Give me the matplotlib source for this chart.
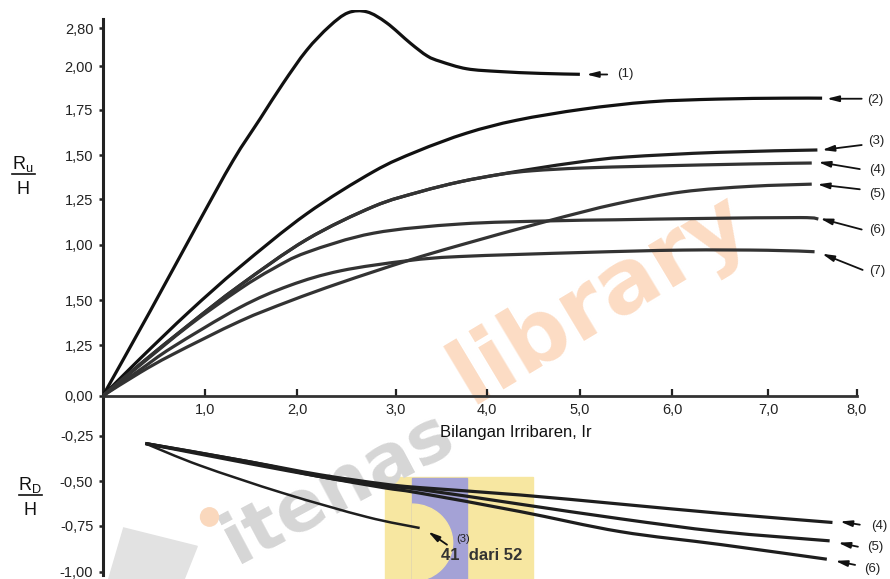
import matplotlib.pyplot as plt
from matplotlib.patches import Rectangle, Ellipse, Polygon, PathPatch
from matplotlib.lines import Line2D
from matplotlib.path import Path

plt.rcParams['font.family'] = ['Liberation Sans Narrow', 'Liberation Sans', 'DejaVu Sans']

# run-up curves (1)..(7): Irribaren number vs Ru/H
ir_1 = [0, 0.50, 1.00, 1.38, 1.67, 1.91, 2.16, 2.40, 2.60, 2.80, 3.01, 3.26, 3.44, 3.58, 3.86, 4.21, 4.64, 5.06]
ru_1 = [0, 0.46, 0.93, 1.28, 1.51, 1.70, 1.88, 2.01, 2.085, 2.09, 2.03, 1.92, 1.85, 1.82, 1.78, 1.765, 1.755, 1.75]

ir_2 = [0, 0.39, 0.92, 1.45, 2.16, 2.87, 3.33, 3.86, 4.39, 5.09, 5.80, 6.52, 7.22, 7.63]
ru_2 = [0, 0.20, 0.46, 0.70, 0.99, 1.22, 1.33, 1.43, 1.50, 1.56, 1.60, 1.615, 1.62, 1.62]

ir_3 = [0, 0.39, 0.92, 1.45, 2.16, 2.87, 3.36, 3.79, 4.21, 4.56, 5.09, 5.56, 6.52, 7.58]
ru_3 = [0, 0.17, 0.39, 0.60, 0.85, 1.03, 1.11, 1.165, 1.205, 1.235, 1.275, 1.30, 1.325, 1.338]

ir_4 = [0, 0.39, 0.92, 1.45, 2.16, 2.87, 3.36, 3.79, 4.21, 4.56, 5.09, 5.80, 6.87, 7.52]
ru_4 = [0, 0.17, 0.39, 0.60, 0.85, 1.03, 1.11, 1.165, 1.205, 1.225, 1.24, 1.25, 1.262, 1.267]

ir_5 = [0, 0.39, 0.74, 1.45, 1.98, 2.52, 3.23, 3.79, 4.71, 5.45, 6.15, 6.87, 7.52]
ru_5 = [0, 0.125, 0.225, 0.405, 0.515, 0.615, 0.735, 0.82, 0.95, 1.045, 1.11, 1.14, 1.152]

ir_6 = [0, 0.39, 0.92, 1.45, 1.80, 2.16, 2.87, 3.79, 4.74, 5.45, 6.33, 7.40, 7.59]
ru_6 = [0, 0.165, 0.385, 0.58, 0.69, 0.78, 0.885, 0.935, 0.952, 0.958, 0.965, 0.97, 0.962]

ir_7 = [0, 0.39, 0.74, 1.45, 1.98, 2.52, 3.23, 3.79, 5.09, 6.15, 7.05, 7.55]
ru_7 = [0, 0.14, 0.265, 0.48, 0.60, 0.68, 0.735, 0.758, 0.78, 0.793, 0.792, 0.784]

# run-down curves (3)..(6): Irribaren number vs Rd/H
ir_d3 = [0.45, 1.03, 1.91, 2.80, 3.36]
rd_d3 = [-0.26, -0.38, -0.53, -0.66, -0.72]

ir_d4 = [0.45, 1.56, 2.30, 2.97, 3.36, 4.42, 5.49, 6.55, 7.74]
rd_d4 = [-0.26, -0.36, -0.43, -0.48, -0.50, -0.54, -0.59, -0.64, -0.69]

ir_d5 = [0.45, 1.56, 2.30, 2.97, 3.36, 4.42, 5.49, 6.55, 7.71]
rd_d5 = [-0.26, -0.36, -0.44, -0.49, -0.51, -0.59, -0.67, -0.74, -0.79]

ir_d6 = [0.45, 1.56, 2.30, 2.97, 3.36, 4.42, 5.49, 6.55, 7.68]
rd_d6 = [-0.26, -0.37, -0.44, -0.50, -0.53, -0.63, -0.74, -0.81, -0.89]

xtick_pos = [1.08, 2.06, 3.11, 4.07, 5.06, 6.04, 7.06, 8.0]
xtick_lab = ['1,0', '2,0', '3,0', '4,0', '5,0', '6,0', '7,0', '8,0']
ytick_pos = [0, 0.274, 0.521, 0.822, 1.069, 1.310, 1.557, 1.793, 2.001, -0.219, -0.466, -0.707, -0.959]
ytick_lab = ['0,00', '1,25', '1,50', '1,00', '1,25', '1,50', '1,75', '2,00', '2,80',
             '-0,25', '-0,50', '-0,75', '-1,00']


def smooth_path(xs, ys):
    # Catmull-Rom through the points, written as cubic Bezier segments
    pts = list(zip(xs, ys))
    verts = [pts[0]]
    codes = [Path.MOVETO]
    n = len(pts)
    for i in range(n - 1):
        p0 = pts[i - 1] if i > 0 else pts[i]
        p1 = pts[i]
        p2 = pts[i + 1]
        p3 = pts[i + 2] if i + 2 < n else p2
        c1 = (p1[0] + (p2[0] - p0[0]) / 6, p1[1] + (p2[1] - p0[1]) / 6)
        c2 = (p2[0] - (p3[0] - p1[0]) / 6, p2[1] - (p3[1] - p1[1]) / 6)
        verts += [c1, c2, p2]
        codes += [Path.CURVE4] * 3
    return Path(verts, codes)


fig = plt.figure(figsize=(8.9, 5.79), dpi=100)
ax = fig.add_axes([0.1157, 0.0069, 0.8472, 0.9758])
ax.set_xlim(0, 8)
ax.set_ylim(-0.976, 2.10)

# faint library watermark behind everything
ax.add_patch(Rectangle((2.99, -1.0), 1.57, 0.56, color='#f7e7a1', zorder=0, clip_on=False))
blue = Rectangle((3.28, -1.0), 0.58, 0.55, color='#a4a2d6', zorder=0, clip_on=False)
ax.add_patch(blue)
d_shape = Ellipse((3.28, -0.80), 0.86, 0.42, color='#f7e7a1', zorder=0)
ax.add_patch(d_shape)
d_shape.set_clip_path(blue)
ax.add_patch(Polygon([(0.06, -1.0), (0.22, -0.72), (1.0, -0.82), (0.86, -1.0)],
                     color='#e2e2e2', zorder=0, clip_on=False))
ax.text(2.50, -0.50, 'itenas', rotation=28, fontsize=52, fontweight='bold',
        family='DejaVu Sans', color='#d6d6d6', ha='center', va='center', zorder=0)
ax.add_patch(Ellipse((1.13, -0.66), 0.19, 0.10, color='#fad8bd', zorder=0))
ax.text(5.27, 0.53, 'library', rotation=31, fontsize=64, fontweight='bold',
        family='DejaVu Sans', color='#fcdcc4', ha='center', va='center', zorder=0)

upper = [(ir_1, ru_1, '#111111'), (ir_2, ru_2, '#111111'), (ir_3, ru_3, '#1e1e1e'),
         (ir_4, ru_4, '#333333'), (ir_5, ru_5, '#333333'), (ir_6, ru_6, '#333333'),
         (ir_7, ru_7, '#333333')]
for x, y, c in upper:
    ax.add_patch(PathPatch(smooth_path(x, y), fill=False, edgecolor=c, lw=2.3,
                           capstyle='butt', zorder=3))

lower = [(ir_d3, rd_d3, 1.8), (ir_d4, rd_d4, 2.3), (ir_d5, rd_d5, 2.3), (ir_d6, rd_d6, 2.3)]
for x, y, w in lower:
    ax.add_patch(PathPatch(smooth_path(x, y), fill=False, edgecolor='#1e1e1e', lw=w,
                           capstyle='butt', zorder=3))

# curve numbers with arrows: (label, label x, label y, tail, head)
tags = [('(1)', 5.54, 1.754, (5.35, 1.749), (5.13, 1.749)),
        ('(2)', 8.19, 1.612, (8.05, 1.617), (7.68, 1.617)),
        ('(3)', 8.20, 1.387, (8.05, 1.365), (7.63, 1.338)),
        ('(4)', 8.21, 1.228, (8.03, 1.234), (7.59, 1.272)),
        ('(5)', 8.21, 1.096, (8.03, 1.124), (7.58, 1.151)),
        ('(6)', 8.21, 0.905, (8.05, 0.905), (7.61, 0.965)),
        ('(7)', 8.22, 0.680, (8.06, 0.685), (7.63, 0.773)),
        ('(4)', 8.24, -0.707, (8.03, -0.702), (7.82, -0.685)),
        ('(5)', 8.19, -0.822, (8.01, -0.822), (7.80, -0.800)),
        ('(6)', 8.16, -0.943, (7.98, -0.921), (7.77, -0.899)),
        ('(3)', 3.82, -0.78, (3.65, -0.811), (3.45, -0.740))]
for lab, tx, ty, tail, head in tags:
    ax.annotate('', xy=head, xytext=tail, zorder=4, annotation_clip=False,
                arrowprops=dict(arrowstyle='-|>,head_length=0.7,head_width=0.18',
                                color='#111111', lw=1.3, shrinkA=0, shrinkB=0))
    fs = 8 if lab == '(3)' and ty < 0 else 9.5
    ax.text(tx, ty, lab, fontsize=fs, color='#222222', ha='center', va='center',
            clip_on=False, zorder=5)

ax.text(3.59, -0.87, '41  dari 52', fontsize=12, fontweight='bold', color='#333333',
        ha='left', va='center', family='Liberation Sans', zorder=5)

# axes drawn through the origin
for s in ['top', 'right']:
    ax.spines[s].set_visible(False)
ax.spines['left'].set_position(('data', 0))
ax.spines['left'].set_bounds(-0.975, 2.05)
ax.spines['left'].set_linewidth(2.2)
ax.spines['left'].set_color('#222222')
ax.spines['bottom'].set_position(('data', 0))
ax.spines['bottom'].set_bounds(0, 8)
ax.spines['bottom'].set_linewidth(2.0)
ax.spines['bottom'].set_color('#333333')

ax.set_xticks(xtick_pos)
ax.set_xticklabels(xtick_lab)
ax.set_yticks(ytick_pos)
ax.set_yticklabels(ytick_lab)
ax.tick_params(axis='x', direction='in', length=5, width=1.6, pad=5, labelsize=10.5,
               colors='#222222')
ax.tick_params(axis='y', direction='out', length=3, width=1.8, pad=4, labelsize=10.5,
               colors='#222222')

ax.text(4.38, -0.2, 'Bilangan Irribaren, Ir', fontsize=12, color='#111111',
        ha='center', va='center')

# Ru/H and Rd/H side labels
fig.text(0.026, 0.717, r'R$\mathregular{_u}$', fontsize=13, ha='center', va='center',
         color='#111111')
fig.add_artist(Line2D([0.013, 0.039], [0.700, 0.700], color='#111111', lw=1.2))
fig.text(0.026, 0.672, 'H', fontsize=13, ha='center', va='center', color='#111111')
fig.text(0.034, 0.162, r'R$\mathregular{_D}$', fontsize=13, ha='center', va='center',
         color='#111111')
fig.add_artist(Line2D([0.021, 0.047], [0.145, 0.145], color='#111111', lw=1.2))
fig.text(0.034, 0.118, 'H', fontsize=13, ha='center', va='center', color='#111111')

fig.savefig('out.png', dpi=100)
